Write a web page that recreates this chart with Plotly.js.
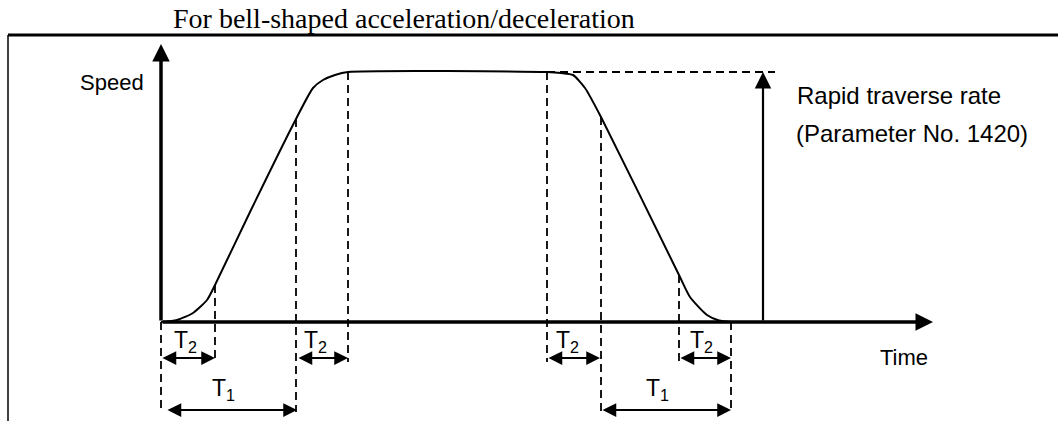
<!DOCTYPE html>
<html><head><meta charset="utf-8">
<script src="https://cdn.plot.ly/plotly-3.0.1.min.js"></script>
<style>html,body{margin:0;padding:0;background:#fff}#chart{width:1058px;height:421px}</style>
</head><body><div id="chart"></div>
<script>
// Speed profile (time in arbitrary units, speed in % of rapid traverse rate)
const curveTime  = [0, 16, 32, 46, 54, 89, 135, 152, 162, 174, 187, 386, 400, 412, 424, 440, 518, 529, 546, 558, 570];
const curveSpeed = [0, 0.8, 3.6, 8.8, 14.8, 44, 81.2, 93.6, 96.8, 98.8, 100, 100, 99.6, 98.8, 93.6, 82, 18.8, 10, 2.8, 0.6, 0];
const rapidRate = 100;
const rapidArrowTime = 602;
const rapidDashEnd = 614;

// dashed time markers
const markTime  = [0, 54, 135, 187, 386, 440, 518, 570];
const markSpeed = [0, 14.8, 81.2, 100, 100, 82, 18.8, 0];
const markDepth = [-36, -16, -36, -16, -16, -36, -16, -36];

// dimension arrows
const t2Start = [0, 136, 386, 518];
const t2End   = [54, 187, 439, 570];
const t1Start = [5, 440];
const t1End   = [136, 570];
const t2LabelTime = [24, 154, 406, 540];
const t1LabelTime = [62, 496];

const titleText = 'For bell-shaped acceleration/deceleration';
const speedLabel = 'Speed';
const timeLabel = 'Time';
const rapidLines = ['Rapid traverse rate', '(Parameter No. 1420)'];

const SANS = 'Liberation Sans, Arial, sans-serif';
const SERIF = 'Liberation Serif, Times New Roman, serif';

const traces = [{
  x: curveTime, y: curveSpeed, type: 'scatter', mode: 'lines',
  line: {color: '#000', width: 2, shape: 'spline', smoothing: 0.6},
  hoverinfo: 'skip'
}];

const shapes = [];
// frame
shapes.push({type:'line', xref:'paper', yref:'paper', x0: 8/1058, x1: 1, y0: 1-35/421, y1: 1-35/421, line:{color:'#000', width:3}});
shapes.push({type:'line', xref:'paper', yref:'paper', x0: 8/1058, x1: 8/1058, y0: 1-35/421, y1: 0, line:{color:'#000', width:1.5}});
// dashed markers
for (let i = 0; i < markTime.length; i++) {
  shapes.push({type:'line', xref:'x', yref:'y', x0: markTime[i], x1: markTime[i], y0: markSpeed[i], y1: markDepth[i],
    line:{color:'#000', width:1.8, dash:'8px,5px'}});
}
shapes.push({type:'line', xref:'x', yref:'y', x0: markTime[4], x1: rapidDashEnd, y0: rapidRate, y1: rapidRate,
  line:{color:'#000', width:1.8, dash:'8px,5px'}});

const ann = [];
function arrow(x0, y0, x1, y1, w, size, both) {
  ann.push({x: x1, y: y1, ax: x0, ay: y0, xref:'x', yref:'y', axref:'x', ayref:'y', text:'',
    showarrow:true, arrowhead:2, arrowsize:size, arrowwidth:w, arrowcolor:'#000',
    startarrowhead:2, startarrowsize:size, arrowside: both ? 'end+start' : 'end',
    standoff:0, startstandoff:0});
}
// axes
arrow(0, 0, 0, 111.2, 3.5, 1.0, false);
arrow(0, 0, 772, 0, 3.5, 1.0, false);
// rapid traverse arrow
arrow(rapidArrowTime, 0, rapidArrowTime, rapidRate, 2.2, 1.5, false);
// T2 / T1 arrows
for (let i = 0; i < t2Start.length; i++) arrow(t2Start[i], -14.4, t2End[i], -14.4, 2.2, 1.25, true);
for (let i = 0; i < t1Start.length; i++) arrow(t1Start[i], -35.2, t1End[i], -35.2, 2.2, 1.25, true);

function label(text, x, y, size, xanchor, family) {
  ann.push({x:x, y:y, xref:'x', yref:'y', text:text, showarrow:false, xanchor:xanchor, yanchor:'middle',
    font:{family: family || SANS, size:size, color:'#000'}});
}
label(titleText, 243, 121.4, 28, 'center', SERIF);
label(speedLabel, -15, 96, 22, 'right');
label(rapidLines[0], 634, 90.6, 24, 'left');
label(rapidLines[1], 633, 75.6, 24, 'left');
label(timeLabel, 717, -14, 22, 'left');
for (const t of t2LabelTime) label('T<sub>2</sub>', t, -7.6, 23, 'center');
for (const t of t1LabelTime) label('T<sub>1</sub>', t, -26.8, 23, 'center');

const layout = {
  width: 1058, height: 421,
  margin: {l:0, r:0, t:0, b:0},
  paper_bgcolor: '#fff', plot_bgcolor: '#fff',
  showlegend: false,
  xaxis: {range: [-161, 897], visible: false, fixedrange: true},
  yaxis: {range: [-39.6, 128.8], visible: false, fixedrange: true},
  shapes: shapes,
  annotations: ann
};
Plotly.newPlot('chart', traces, layout, {displayModeBar: false, staticPlot: true});
</script>
</body></html>
